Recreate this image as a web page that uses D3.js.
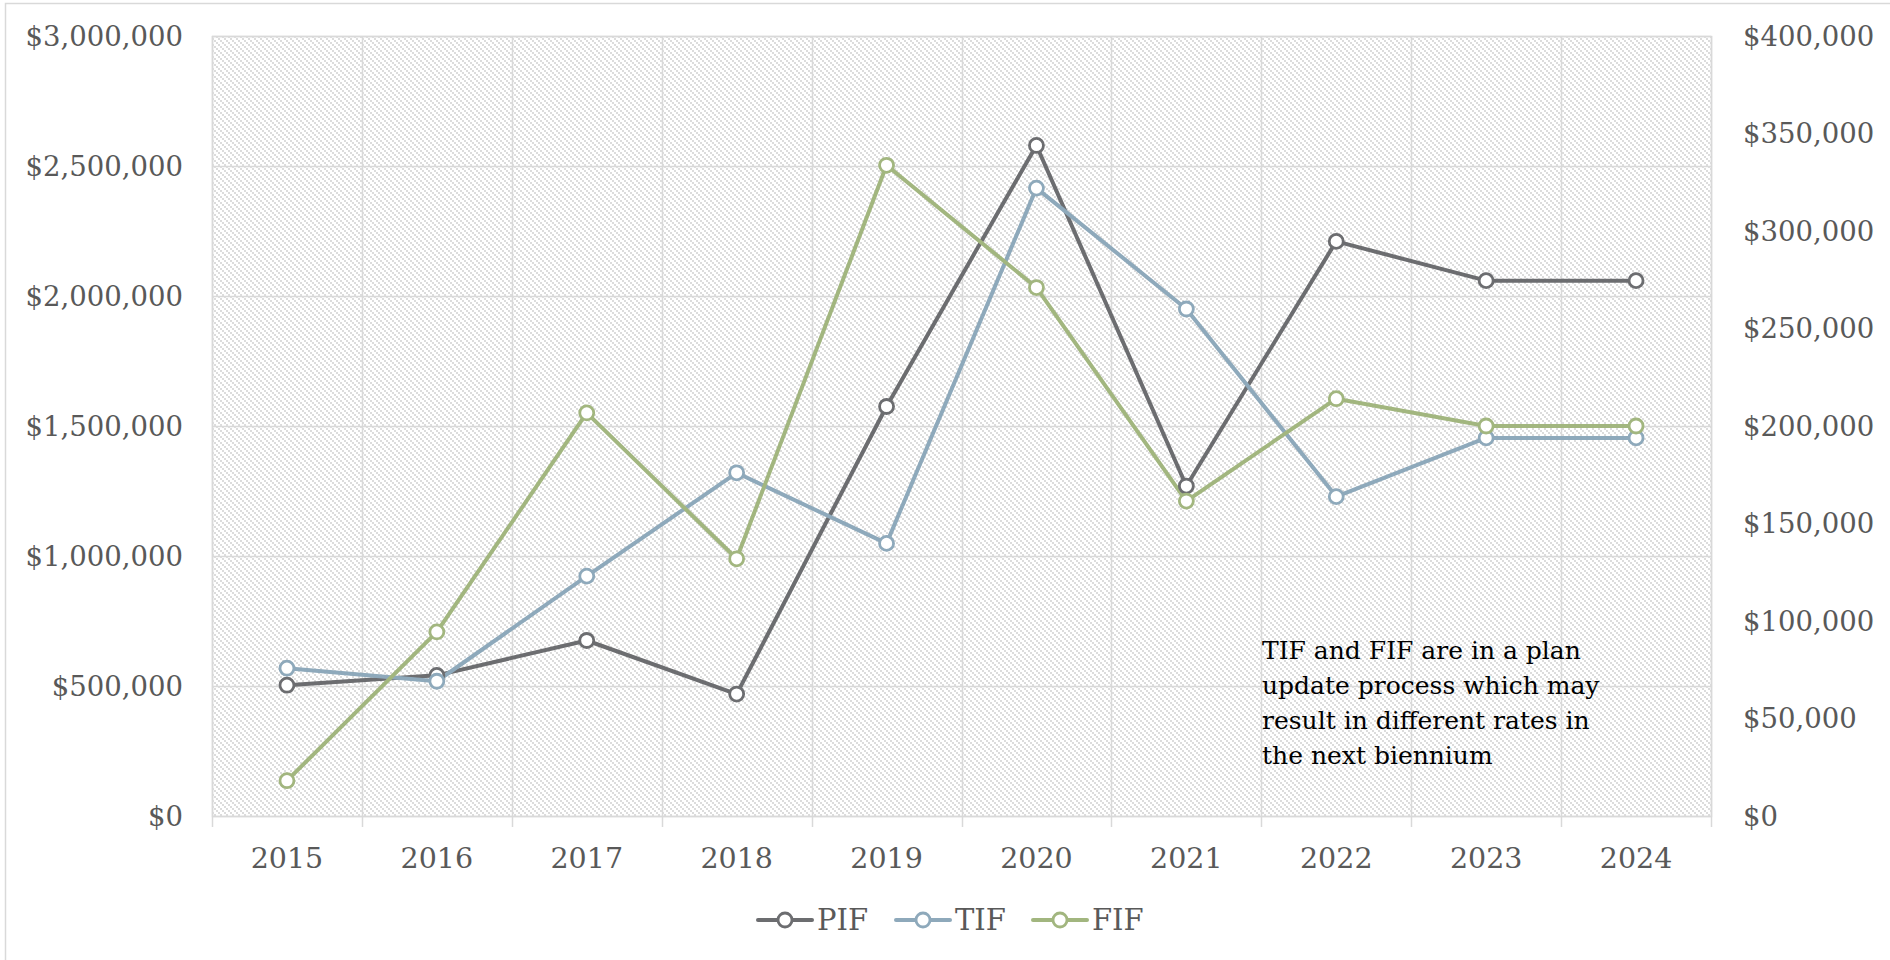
<!DOCTYPE html>
<html>
<head>
<meta charset="utf-8">
<script src="https://cdn.jsdelivr.net/npm/d3@7"></script>
<style>
  html, body { margin: 0; padding: 0; background: #fff; }
  svg { display: block; }
</style>
</head>
<body>
<svg id="chart" width="1890" height="960"></svg>
<script>
// ---- data ----
const years = ["2015","2016","2017","2018","2019","2020","2021","2022","2023","2024"];
const pif = [503000, 541000, 675000, 469000, 1575000, 2579000, 1269000, 2210000, 2059000, 2059000]; // left axis
const tif = [75800, 69100, 123000, 176000, 139800, 322000, 260000, 163800, 193900, 193900];      // right axis
const fif = [18100, 94400, 206700, 131900, 333700, 271000, 161500, 214000, 200000, 200000];      // right axis
const leftTicks = [0, 500000, 1000000, 1500000, 2000000, 2500000, 3000000];
const rightTicks = [0, 50000, 100000, 150000, 200000, 250000, 300000, 350000, 400000];
const seriesNames = ["PIF", "TIF", "FIF"];
const note = ["TIF and FIF are in a plan", "update process which may", "result in different rates in", "the next biennium"];

// ---- layout ----
const W = 1890, H = 960;
const plot = { left: 212, top: 36, right: 1711, bottom: 816 };
const colors = { PIF: "#6c6d70", TIF: "#8ea9bb", FIF: "#a2b67f" };
const font = "'DejaVu Serif', serif";
const labelColor = "#595959";
const gridColor = "#d9d9d9";

const svg = d3.select("#chart");

// outer chart border
svg.append("rect").attr("x", 5.5).attr("y", 3.5).attr("width", W).attr("height", H)
  .attr("fill", "#fff").attr("stroke", gridColor).attr("stroke-width", 1.5);

// pattern: diagonal chains of small blocks
const defs = svg.append("defs");
const pat = defs.append("pattern").attr("id", "hatch").attr("patternUnits", "userSpaceOnUse")
  .attr("width", 6).attr("height", 6);
pat.append("rect").attr("width", 6).attr("height", 6).attr("fill", "#ffffff");
[0, 2, 4].forEach(i => {
  pat.append("rect").attr("x", i).attr("y", i).attr("width", 2).attr("height", 2).attr("fill", "#dcdcdc");
});

const x = d3.scaleBand().domain(years).range([plot.left, plot.right]);
const yL = d3.scaleLinear().domain([0, 3000000]).range([plot.bottom, plot.top]);
const yR = d3.scaleLinear().domain([0, 400000]).range([plot.bottom, plot.top]);

// plot background
svg.append("rect").attr("x", plot.left).attr("y", plot.top)
  .attr("width", plot.right - plot.left).attr("height", plot.bottom - plot.top)
  .attr("fill", "url(#hatch)");

// horizontal gridlines
svg.append("g").selectAll("line").data(leftTicks).join("line")
  .attr("x1", plot.left).attr("x2", plot.right)
  .attr("y1", d => Math.round(yL(d)) + 0.5).attr("y2", d => Math.round(yL(d)) + 0.5)
  .attr("stroke", gridColor).attr("stroke-width", 1.5);

// vertical gridlines at band boundaries (+ tick marks below axis)
const bounds = years.map(d => x(d)).concat([plot.right]);
svg.append("g").selectAll("line").data(bounds).join("line")
  .attr("x1", d => Math.round(d) + 0.5).attr("x2", d => Math.round(d) + 0.5)
  .attr("y1", plot.top).attr("y2", plot.bottom + 11)
  .attr("stroke", gridColor).attr("stroke-width", 1.5);

// plot border
svg.append("rect").attr("x", plot.left + 0.5).attr("y", plot.top + 0.5)
  .attr("width", plot.right - plot.left).attr("height", plot.bottom - plot.top)
  .attr("fill", "none").attr("stroke", gridColor).attr("stroke-width", 1.5);

// left axis labels
const fmt = d3.format("$,.0f");
svg.append("g").selectAll("text").data(leftTicks).join("text")
  .attr("x", 183).attr("y", d => yL(d)).attr("dy", "0.35em")
  .attr("text-anchor", "end").attr("font-family", font).attr("font-size", 27.5)
  .attr("fill", labelColor).text(d => fmt(d));

// right axis labels
svg.append("g").selectAll("text").data(rightTicks).join("text")
  .attr("x", 1743).attr("y", d => yR(d)).attr("dy", "0.35em")
  .attr("text-anchor", "start").attr("font-family", font).attr("font-size", 27.5)
  .attr("fill", labelColor).text(d => fmt(d));

// x labels
svg.append("g").selectAll("text").data(years).join("text")
  .attr("x", d => x(d) + x.bandwidth() / 2).attr("y", 868)
  .attr("text-anchor", "middle").attr("font-family", font).attr("font-size", 28.5)
  .attr("fill", labelColor).text(d => d);

// series
const series = [
  { name: "PIF", values: pif, y: yL },
  { name: "TIF", values: tif, y: yR },
  { name: "FIF", values: fif, y: yR }
];
const cx = (i) => x(years[i]) + x.bandwidth() / 2;
series.forEach(s => {
  const line = d3.line().x((d, i) => cx(i)).y(d => s.y(d));
  svg.append("path").datum(s.values).attr("d", line)
    .attr("fill", "none").attr("stroke", colors[s.name]).attr("stroke-width", 4)
    .attr("stroke-linejoin", "round").attr("stroke-linecap", "round");
});
series.forEach(s => {
  svg.append("g").selectAll("circle").data(s.values).join("circle")
    .attr("cx", (d, i) => cx(i)).attr("cy", d => s.y(d)).attr("r", 7)
    .attr("fill", "#fff").attr("stroke", colors[s.name]).attr("stroke-width", 2.8);
});

// annotation
const ann = svg.append("text").attr("font-family", font).attr("font-size", 25).attr("fill", "#000");
note.forEach((t, i) => {
  ann.append("tspan").attr("x", 1262).attr("y", 659 + i * 35).text(t);
});

// legend
const legendX = [758, 896, 1033];
const ly = 920;
seriesNames.forEach((n, i) => {
  const g = svg.append("g");
  g.append("line").attr("x1", legendX[i]).attr("x2", legendX[i] + 54).attr("y1", ly).attr("y2", ly)
    .attr("stroke", colors[n]).attr("stroke-width", 4).attr("stroke-linecap", "round");
  g.append("circle").attr("cx", legendX[i] + 27).attr("cy", ly).attr("r", 7)
    .attr("fill", "#fff").attr("stroke", colors[n]).attr("stroke-width", 2.8);
  g.append("text").attr("x", legendX[i] + 59).attr("y", ly).attr("dy", "0.36em")
    .attr("font-family", font).attr("font-size", 29).attr("fill", labelColor).text(n);
});
</script>
</body>
</html>
